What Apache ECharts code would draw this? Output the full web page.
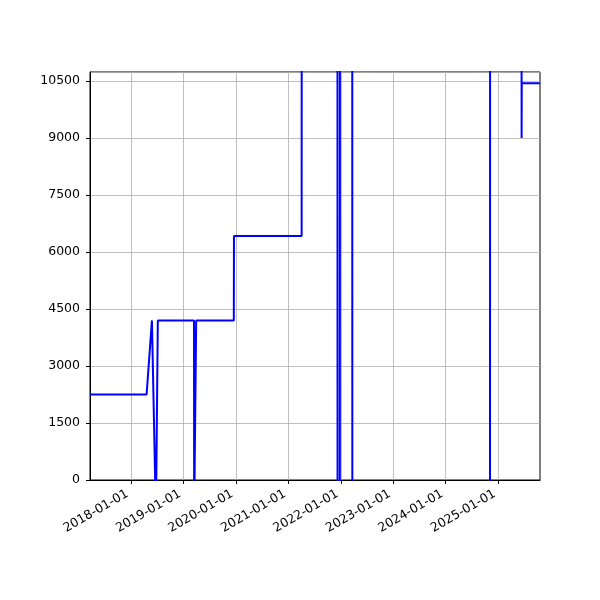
<!DOCTYPE html>
<html>
<head>
<meta charset="utf-8">
<script src="https://cdn.jsdelivr.net/npm/echarts@6/dist/echarts.min.js"></script>
<style>
  html, body { margin: 0; padding: 0; background: #fff; }
  #chart { width: 600px; height: 600px; }
</style>
</head>
<body>
<div id="chart"></div>
<script>
// step points; values outside 0..top are clipped in the reference,
// so the hidden highs and lows below are only guesses
const dates = [
    '2017-03-22', '2018-04-20', '2018-05-27', '2018-06-24', '2018-07-06', '2018-07-07',
    '2019-03-16', '2019-03-17', '2019-03-30', '2019-03-31',
    '2019-12-18', '2019-12-19', '2021-04-03', '2021-04-04',
    '2021-12-08', '2021-12-09', '2021-12-25', '2021-12-26',
    '2022-03-21', '2022-03-22', '2024-11-04', '2024-11-05',
    '2025-06-11', '2025-06-12', '2025-06-13', '2025-10-18'
];
const values = [
    2250, 2250, 4200, -1000, -1000, 4200,
    4200, -1000, -1000, 4200,
    4200, 6420, 6420, 20000,
    20000, -1000, -1000, 20000,
    20000, -1000, -1000, 20000,
    20000, 9000, 10440, 10440
];
const xTicks = ['2018-01-01', '2019-01-01', '2020-01-01', '2021-01-01',
                '2022-01-01', '2023-01-01', '2024-01-01', '2025-01-01'];
const xRange = ['2017-03-22', '2025-10-18'];
const yMax = 10737;

let chart = echarts.init(document.getElementById('chart'));

// x as milliseconds on a plain value axis, ticks put on Jan 1 of each year
let data = [];
for (let i = 0; i < dates.length; i++) {
    data.push([Date.parse(dates[i]), values[i]]);
}
let tickMs = xTicks.map(d => Date.parse(d));

let option = {
    animation: false,
    textStyle: { fontFamily: 'DejaVu Sans' },
    grid: {
        left: 90, right: 60, top: 72, bottom: 120,
        show: true, borderColor: '#000', borderWidth: 1,
        containLabel: false
    },
    xAxis: {
        type: 'value',
        min: Date.parse(xRange[0]),
        max: Date.parse(xRange[1]),
        axisLine: { lineStyle: { color: '#000', width: 1 } },
        axisTick: { show: true, customValues: tickMs, length: 4, lineStyle: { color: '#000' } },
        axisLabel: {
            customValues: tickMs,
            rotate: 30,
            margin: 11,
            padding: [0, 4, 0, 0],
            fontSize: 12.5,
            color: '#000',
            formatter: function (v) {
                return new Date(v).toISOString().slice(0, 10);
            }
        },
        splitLine: { show: true, lineStyle: { color: '#b0b0b0', width: 0.8 } }
    },
    yAxis: {
        type: 'value',
        min: 0,
        max: yMax,
        interval: 1500,
        axisLine: { show: true, lineStyle: { color: '#000', width: 1 } },
        axisTick: { show: true, length: 4, lineStyle: { color: '#000' } },
        axisLabel: {
            showMaxLabel: false,
            margin: 10,
            fontSize: 12.5,
            color: '#000',
            formatter: function (v) { return String(v); }
        },
        splitLine: { show: true, lineStyle: { color: '#b0b0b0', width: 0.8 } }
    },
    series: [{
        type: 'line',
        data: data,
        showSymbol: false,
        clip: true,
        lineStyle: { color: '#0000ff', width: 2 },
        itemStyle: { color: '#0000ff' }
    }]
};

chart.setOption(option);
</script>
</body>
</html>
